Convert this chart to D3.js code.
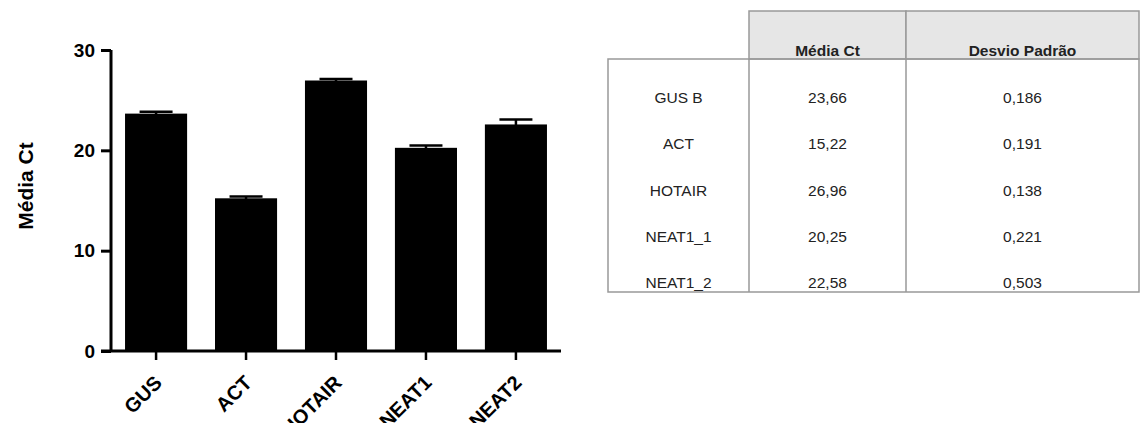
<!DOCTYPE html>
<html><head><meta charset="utf-8">
<script src="https://cdn.jsdelivr.net/npm/d3@7"></script>
<style>body{margin:0;background:#fff}svg{display:block}</style>
</head><body>
<svg id="c" width="1141" height="423"></svg>
<script>
const categories = ["GUS", "ACT", "HOTAIR", "NEAT1", "NEAT2"];
const meanCt = [23.66, 15.22, 26.96, 20.25, 22.58];
const sdCt = [0.186, 0.191, 0.138, 0.221, 0.503];
const yTicks = [0, 10, 20, 30];
const tableRowLabels = ["GUS B", "ACT", "HOTAIR", "NEAT1_1", "NEAT1_2"];
const tableMeanText = ["23,66", "15,22", "26,96", "20,25", "22,58"];
const tableSdText = ["0,186", "0,191", "0,138", "0,221", "0,503"];
const tableHeaders = ["Média Ct", "Desvio Padrão"];

const svg = d3.select("#c");
const font = "'Liberation Sans', Arial, sans-serif";

// ---- bar chart ----
const x = d3.scaleBand().domain(categories).range([111, 561]).paddingInner(0.31).paddingOuter(0.156);
const y = d3.scaleLinear().domain([0, 30]).range([351, 50]);
const g = svg.append("g");

g.selectAll("rect.bar").data(categories).join("rect")
  .attr("x", d => x(d)).attr("width", x.bandwidth())
  .attr("y", (d, i) => y(meanCt[i])).attr("height", (d, i) => y(0) - y(meanCt[i]))
  .attr("fill", "#000");

// error bars
const capW = 33;
g.selectAll("line.err").data(categories).join("line")
  .attr("x1", d => x(d) + x.bandwidth() / 2).attr("x2", d => x(d) + x.bandwidth() / 2)
  .attr("y1", (d, i) => y(meanCt[i] - sdCt[i])).attr("y2", (d, i) => y(meanCt[i] + sdCt[i]))
  .attr("stroke", "#000").attr("stroke-width", 2.5);
g.selectAll("line.cap").data(categories).join("line")
  .attr("x1", d => x(d) + x.bandwidth() / 2 - capW / 2).attr("x2", d => x(d) + x.bandwidth() / 2 + capW / 2)
  .attr("y1", (d, i) => y(meanCt[i] + sdCt[i])).attr("y2", (d, i) => y(meanCt[i] + sdCt[i]))
  .attr("stroke", "#000").attr("stroke-width", 2.5);

// y axis
const yAxis = d3.axisLeft(y).tickValues(yTicks).tickSize(10).tickPadding(6).tickFormat(d3.format("d"));
const ya = g.append("g").attr("transform", "translate(111,0)").call(yAxis);
ya.select(".domain").attr("d", "M0," + y(30) + "V" + y(0)).attr("stroke", "#000").attr("stroke-width", 3).attr("fill", "none");
ya.selectAll(".tick line").attr("stroke", "#000").attr("stroke-width", 3);
ya.selectAll(".tick text").attr("font-family", font).attr("font-weight", "bold").attr("font-size", 19).attr("fill", "#000");

// x axis
const xAxis = d3.axisBottom(x).tickSize(9).tickFormat("");
const xa = g.append("g").attr("transform", "translate(0,351)").call(xAxis);
xa.select(".domain").attr("d", "M101,0H561").attr("stroke", "#000").attr("stroke-width", 3).attr("fill", "none");
xa.selectAll(".tick line").attr("stroke", "#000").attr("stroke-width", 2.5);
xa.selectAll(".tick").append("text")
  .attr("text-anchor", "end")
  .attr("transform", "translate(7,33) rotate(-45)")
  .attr("font-family", font).attr("font-weight", "bold").attr("font-size", 20).attr("fill", "#000")
  .text(d => d);

// y label
svg.append("text").attr("transform", "translate(33,186) rotate(-90)")
  .attr("text-anchor", "middle").attr("font-family", font).attr("font-weight", "bold")
  .attr("font-size", 21).attr("fill", "#000").text("Média Ct");

// ---- table ----
const colEdges = [608, 749, 906, 1139];
const headTop = 11, bodyTop = 59, bodyBottom = 292;
const rowBase = d3.scaleLinear().domain([0, 4]).range([103, 288]);
const t = svg.append("g");
const border = "#999";
// header cells
tableHeaders.forEach((h, i) => {
  t.append("rect").attr("x", colEdges[i + 1]).attr("y", headTop)
    .attr("width", colEdges[i + 2] - colEdges[i + 1]).attr("height", bodyTop - headTop)
    .attr("fill", "#e6e6e6").attr("stroke", border).attr("stroke-width", 1.5);
  t.append("text").attr("x", (colEdges[i + 1] + colEdges[i + 2]) / 2).attr("y", 56)
    .attr("text-anchor", "middle").attr("font-family", font).attr("font-weight", "bold")
    .attr("font-size", 15.5).attr("fill", "#222").text(h);
});
// body box
t.append("rect").attr("x", colEdges[0]).attr("y", bodyTop)
  .attr("width", colEdges[3] - colEdges[0]).attr("height", bodyBottom - bodyTop)
  .attr("fill", "none").attr("stroke", border).attr("stroke-width", 1.5);
[1, 2].forEach(k => t.append("line").attr("x1", colEdges[k]).attr("x2", colEdges[k])
  .attr("y1", bodyTop).attr("y2", bodyBottom).attr("stroke", border).attr("stroke-width", 1.5));
const cols = [tableRowLabels, tableMeanText, tableSdText];
cols.forEach((arr, c) => {
  t.selectAll(null).data(arr).join("text")
    .attr("x", (colEdges[c] + colEdges[c + 1]) / 2).attr("y", (d, i) => rowBase(i))
    .attr("text-anchor", "middle").attr("font-family", font).attr("font-size", 15.5)
    .attr("fill", "#222").text(d => d);
});
</script>
</body></html>
